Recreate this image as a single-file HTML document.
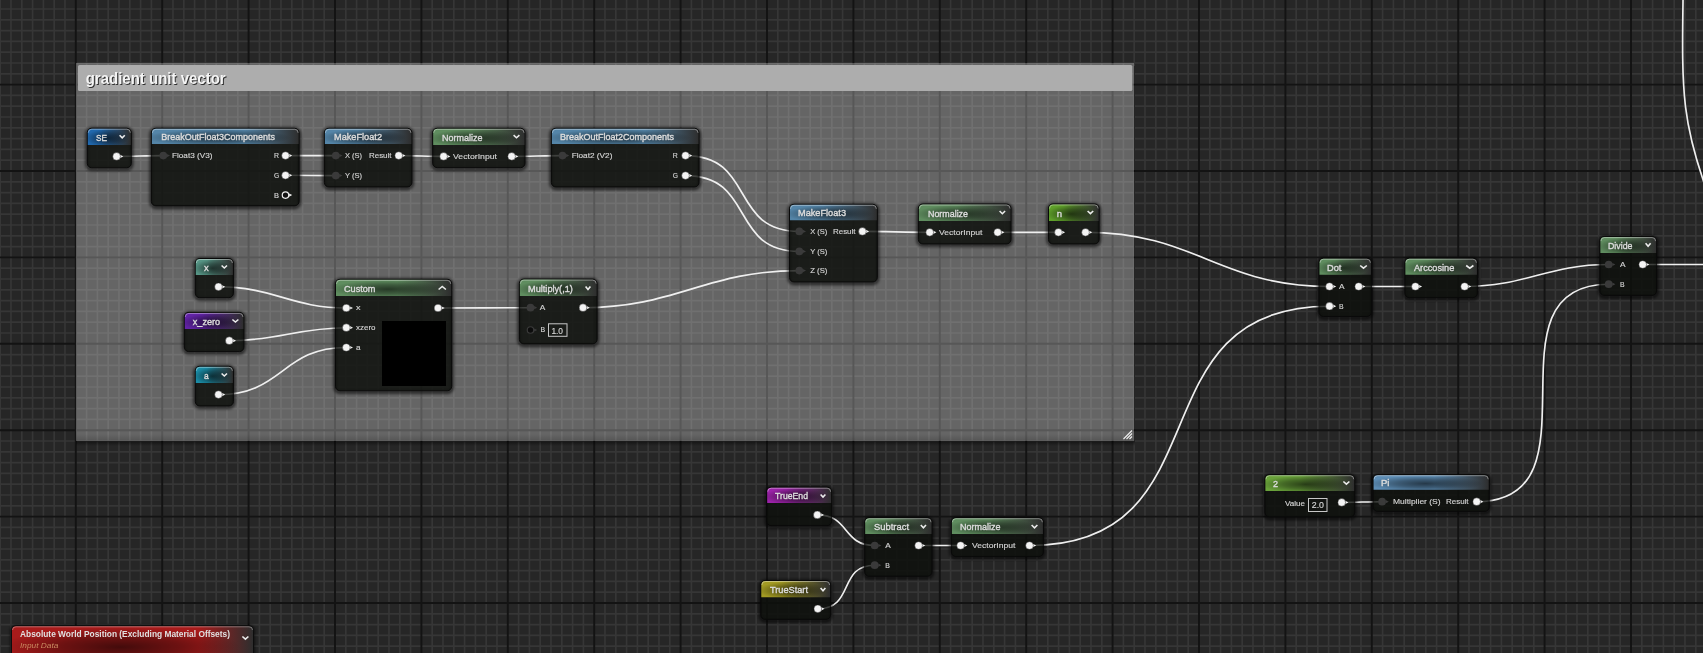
<!DOCTYPE html>
<html><head><meta charset='utf-8'><style>html,body{margin:0;padding:0;background:#262626;overflow:hidden}svg{display:block;will-change:transform}</style></head>
<body><svg width='1703' height='653' viewBox='0 0 1703 653'>
<defs><radialGradient id='blob' cx='0.45' cy='0.58' r='0.5' fx='0.45' fy='0.58' gradientTransform='translate(0.45 0.58) scale(1 1.1) translate(-0.45 -0.58)'><stop offset='0' stop-color='#000' stop-opacity='0.6'/><stop offset='0.5' stop-color='#000' stop-opacity='0.35'/><stop offset='1' stop-color='#000' stop-opacity='0'/></radialGradient><linearGradient id='bodyg' x1='0' y1='0' x2='0' y2='1'><stop offset='0' stop-color='#232422'/><stop offset='1' stop-color='#1c1d1b'/></linearGradient><filter id='sh' x='-20%' y='-20%' width='140%' height='140%'><feGaussianBlur stdDeviation='1.6'/></filter><linearGradient id='cbot' x1='0' y1='0' x2='0' y2='1'><stop offset='0' stop-color='#000' stop-opacity='0'/><stop offset='1' stop-color='#000' stop-opacity='0.16'/></linearGradient><linearGradient id='cshd' x1='0' y1='0' x2='0' y2='1'><stop offset='0' stop-color='#000' stop-opacity='0.5'/><stop offset='1' stop-color='#000' stop-opacity='0'/></linearGradient><linearGradient id='hg1' x1='0' y1='0' x2='1' y2='0'><stop offset='0' stop-color='#2168ad'/><stop offset='0.300' stop-color='#2168ad'/><stop offset='1' stop-color='#2e2e2e'/></linearGradient><linearGradient id='hg2' x1='0' y1='0' x2='1' y2='0'><stop offset='0' stop-color='#5485a8'/><stop offset='0.630' stop-color='#5485a8'/><stop offset='1' stop-color='#2e2e2e'/></linearGradient><linearGradient id='hg3' x1='0' y1='0' x2='1' y2='0'><stop offset='0' stop-color='#5485a8'/><stop offset='0.379' stop-color='#5485a8'/><stop offset='1' stop-color='#2e2e2e'/></linearGradient><linearGradient id='hg4' x1='0' y1='0' x2='1' y2='0'><stop offset='0' stop-color='#5f8d5f'/><stop offset='0.411' stop-color='#5f8d5f'/><stop offset='1' stop-color='#2e2e2e'/></linearGradient><linearGradient id='hg5' x1='0' y1='0' x2='1' y2='0'><stop offset='0' stop-color='#5485a8'/><stop offset='0.630' stop-color='#5485a8'/><stop offset='1' stop-color='#2e2e2e'/></linearGradient><linearGradient id='hg6' x1='0' y1='0' x2='1' y2='0'><stop offset='0' stop-color='#5485a8'/><stop offset='0.381' stop-color='#5485a8'/><stop offset='1' stop-color='#2e2e2e'/></linearGradient><linearGradient id='hg7' x1='0' y1='0' x2='1' y2='0'><stop offset='0' stop-color='#5f8d5f'/><stop offset='0.412' stop-color='#5f8d5f'/><stop offset='1' stop-color='#2e2e2e'/></linearGradient><linearGradient id='hg8' x1='0' y1='0' x2='1' y2='0'><stop offset='0' stop-color='#5fa02a'/><stop offset='0.300' stop-color='#5fa02a'/><stop offset='1' stop-color='#2e2e2e'/></linearGradient><linearGradient id='hg9' x1='0' y1='0' x2='1' y2='0'><stop offset='0' stop-color='#569585'/><stop offset='0.300' stop-color='#569585'/><stop offset='1' stop-color='#2e2e2e'/></linearGradient><linearGradient id='hg10' x1='0' y1='0' x2='1' y2='0'><stop offset='0' stop-color='#6223a6'/><stop offset='0.300' stop-color='#6223a6'/><stop offset='1' stop-color='#2e2e2e'/></linearGradient><linearGradient id='hg11' x1='0' y1='0' x2='1' y2='0'><stop offset='0' stop-color='#1b8ca6'/><stop offset='0.300' stop-color='#1b8ca6'/><stop offset='1' stop-color='#2e2e2e'/></linearGradient><linearGradient id='hg12' x1='0' y1='0' x2='1' y2='0'><stop offset='0' stop-color='#5f8d5f'/><stop offset='0.531' stop-color='#5f8d5f'/><stop offset='1' stop-color='#2e2e2e'/></linearGradient><linearGradient id='hg13' x1='0' y1='0' x2='1' y2='0'><stop offset='0' stop-color='#5f8d5f'/><stop offset='0.301' stop-color='#5f8d5f'/><stop offset='1' stop-color='#2e2e2e'/></linearGradient><linearGradient id='hg14' x1='0' y1='0' x2='1' y2='0'><stop offset='0' stop-color='#5f8d5f'/><stop offset='0.300' stop-color='#5f8d5f'/><stop offset='1' stop-color='#2e2e2e'/></linearGradient><linearGradient id='hg15' x1='0' y1='0' x2='1' y2='0'><stop offset='0' stop-color='#5f8d5f'/><stop offset='0.300' stop-color='#5f8d5f'/><stop offset='1' stop-color='#2e2e2e'/></linearGradient><linearGradient id='hg16' x1='0' y1='0' x2='1' y2='0'><stop offset='0' stop-color='#5f8d5f'/><stop offset='0.300' stop-color='#5f8d5f'/><stop offset='1' stop-color='#2e2e2e'/></linearGradient><linearGradient id='hg17' x1='0' y1='0' x2='1' y2='0'><stop offset='0' stop-color='#69a23a'/><stop offset='0.394' stop-color='#69a23a'/><stop offset='1' stop-color='#2e2e2e'/></linearGradient><linearGradient id='hg18' x1='0' y1='0' x2='1' y2='0'><stop offset='0' stop-color='#5d8db5'/><stop offset='0.530' stop-color='#5d8db5'/><stop offset='1' stop-color='#2e2e2e'/></linearGradient><linearGradient id='hg19' x1='0' y1='0' x2='1' y2='0'><stop offset='0' stop-color='#9b22a8'/><stop offset='0.300' stop-color='#9b22a8'/><stop offset='1' stop-color='#2e2e2e'/></linearGradient><linearGradient id='hg20' x1='0' y1='0' x2='1' y2='0'><stop offset='0' stop-color='#a39b23'/><stop offset='0.300' stop-color='#a39b23'/><stop offset='1' stop-color='#2e2e2e'/></linearGradient><linearGradient id='hg21' x1='0' y1='0' x2='1' y2='0'><stop offset='0' stop-color='#5f8d5f'/><stop offset='0.300' stop-color='#5f8d5f'/><stop offset='1' stop-color='#2e2e2e'/></linearGradient><linearGradient id='hg22' x1='0' y1='0' x2='1' y2='0'><stop offset='0' stop-color='#5f8d5f'/><stop offset='0.409' stop-color='#5f8d5f'/><stop offset='1' stop-color='#2e2e2e'/></linearGradient><linearGradient id='hg23' x1='0' y1='0' x2='1' y2='0'><stop offset='0' stop-color='#a81b1b'/><stop offset='0.772' stop-color='#a81b1b'/><stop offset='1' stop-color='#2e2e2e'/></linearGradient></defs>
<rect x='0' y='0' width='1703' height='653' fill='#262626'/>
<path d='M0.20 0V653M11.00 0V653M21.80 0V653M32.60 0V653M43.40 0V653M54.20 0V653M65.00 0V653M86.60 0V653M97.40 0V653M108.20 0V653M119.00 0V653M129.80 0V653M140.60 0V653M151.40 0V653M173.00 0V653M183.80 0V653M194.60 0V653M205.40 0V653M216.20 0V653M227.00 0V653M237.80 0V653M259.40 0V653M270.20 0V653M281.00 0V653M291.80 0V653M302.60 0V653M313.40 0V653M324.20 0V653M345.80 0V653M356.60 0V653M367.40 0V653M378.20 0V653M389.00 0V653M399.80 0V653M410.60 0V653M432.20 0V653M443.00 0V653M453.80 0V653M464.60 0V653M475.40 0V653M486.20 0V653M497.00 0V653M518.60 0V653M529.40 0V653M540.20 0V653M551.00 0V653M561.80 0V653M572.60 0V653M583.40 0V653M605.00 0V653M615.80 0V653M626.60 0V653M637.40 0V653M648.20 0V653M659.00 0V653M669.80 0V653M691.40 0V653M702.20 0V653M713.00 0V653M723.80 0V653M734.60 0V653M745.40 0V653M756.20 0V653M777.80 0V653M788.60 0V653M799.40 0V653M810.20 0V653M821.00 0V653M831.80 0V653M842.60 0V653M864.20 0V653M875.00 0V653M885.80 0V653M896.60 0V653M907.40 0V653M918.20 0V653M929.00 0V653M950.60 0V653M961.40 0V653M972.20 0V653M983.00 0V653M993.80 0V653M1004.60 0V653M1015.40 0V653M1037.00 0V653M1047.80 0V653M1058.60 0V653M1069.40 0V653M1080.20 0V653M1091.00 0V653M1101.80 0V653M1123.40 0V653M1134.20 0V653M1145.00 0V653M1155.80 0V653M1166.60 0V653M1177.40 0V653M1188.20 0V653M1209.80 0V653M1220.60 0V653M1231.40 0V653M1242.20 0V653M1253.00 0V653M1263.80 0V653M1274.60 0V653M1296.20 0V653M1307.00 0V653M1317.80 0V653M1328.60 0V653M1339.40 0V653M1350.20 0V653M1361.00 0V653M1382.60 0V653M1393.40 0V653M1404.20 0V653M1415.00 0V653M1425.80 0V653M1436.60 0V653M1447.40 0V653M1469.00 0V653M1479.80 0V653M1490.60 0V653M1501.40 0V653M1512.20 0V653M1523.00 0V653M1533.80 0V653M1555.40 0V653M1566.20 0V653M1577.00 0V653M1587.80 0V653M1598.60 0V653M1609.40 0V653M1620.20 0V653M1641.80 0V653M1652.60 0V653M1663.40 0V653M1674.20 0V653M1685.00 0V653M1695.80 0V653M0 9.00H1703M0 19.80H1703M0 30.60H1703M0 41.40H1703M0 52.20H1703M0 63.00H1703M0 73.80H1703M0 95.40H1703M0 106.20H1703M0 117.00H1703M0 127.80H1703M0 138.60H1703M0 149.40H1703M0 160.20H1703M0 181.80H1703M0 192.60H1703M0 203.40H1703M0 214.20H1703M0 225.00H1703M0 235.80H1703M0 246.60H1703M0 268.20H1703M0 279.00H1703M0 289.80H1703M0 300.60H1703M0 311.40H1703M0 322.20H1703M0 333.00H1703M0 354.60H1703M0 365.40H1703M0 376.20H1703M0 387.00H1703M0 397.80H1703M0 408.60H1703M0 419.40H1703M0 441.00H1703M0 451.80H1703M0 462.60H1703M0 473.40H1703M0 484.20H1703M0 495.00H1703M0 505.80H1703M0 527.40H1703M0 538.20H1703M0 549.00H1703M0 559.80H1703M0 570.60H1703M0 581.40H1703M0 592.20H1703M0 613.80H1703M0 624.60H1703M0 635.40H1703M0 646.20H1703' stroke='#363636' stroke-width='1.7' fill='none'/>
<path d='M75.80 0V653M162.20 0V653M248.60 0V653M335.00 0V653M421.40 0V653M507.80 0V653M594.20 0V653M680.60 0V653M767.00 0V653M853.40 0V653M939.80 0V653M1026.20 0V653M1112.60 0V653M1199.00 0V653M1285.40 0V653M1371.80 0V653M1458.20 0V653M1544.60 0V653M1631.00 0V653M0 -1.80H1703M0 84.60H1703M0 171.00H1703M0 257.40H1703M0 343.80H1703M0 430.20H1703M0 516.60H1703M0 603.00H1703' stroke='#131313' stroke-width='1.9' fill='none'/>
<rect x='76' y='63' width='1058' height='378' fill='#ffffff' fill-opacity='0.29'/>
<rect x='76' y='434' width='1058' height='7' fill='url(#cbot)'/>
<rect x='76' y='441' width='1059' height='5' fill='url(#cshd)'/>
<rect x='1134' y='66' width='1' height='375' fill='#000' fill-opacity='0.3'/>
<rect x='78' y='65' width='1054.3' height='26' rx='1.5' fill='#adadad'/>
<text x='86.7' y='84.8' font-family="Liberation Sans, sans-serif" font-size='16.5' font-weight='bold' fill='#303030' textLength='140' lengthAdjust='spacingAndGlyphs'>gradient unit vector</text>
<text x='85.7' y='83.8' font-family="Liberation Sans, sans-serif" font-size='16.5' font-weight='bold' fill='#f4f4f4' textLength='140' lengthAdjust='spacingAndGlyphs'>gradient unit vector</text>
<g stroke='#f0f0f0' stroke-width='1.1'><path d='M1123.5 439L1132 430.5'/><path d='M1126.5 439L1132 433.5'/><path d='M1129.5 439L1132 436.5'/></g>
<path d='M116.6 156.4C134.18 156.4 145.72 155.6 163.3 155.6M285.5 155.6C304.11 155.6 317.19 155.6 335.8 155.6M285.5 175.3C304.22 175.3 317.08 175.6 335.8 175.6M398.7 155.6C415.61 155.6 426.69 156.4 443.6 156.4M511.6 156.4C530.73 156.4 543.37 155.6 562.5 155.6M685.5 155.6C755.65 155.6 729.15 231.4 799.3 231.4M685.5 175.6C755.65 175.6 729.15 251.4 799.3 251.4M583 307.7C676.76 307.7 705.54 270.6 799.3 270.6M862.4 231.4C887.63 231.4 904.47 232.3 929.7 232.3M997.7 232.3C1020.16 232.3 1035.94 232.3 1058.4 232.3M1085.5 232.3C1195.83 232.3 1219.17 286.5 1329.5 286.5M218.5 286.8C273.63 286.8 291.17 308 346.3 308M229.3 340.7C277.40 340.7 298.20 327.7 346.3 327.7M218.5 394.6C283.21 394.6 281.59 347.5 346.3 347.5M438 308C472.34 308 496.16 307.7 530.5 307.7M1358.7 286.5C1379.68 286.5 1394.42 286.5 1415.4 286.5M1464.6 286.5C1526.06 286.5 1547.24 264.5 1608.7 264.5M1476.7 501.7C1606.02 501.7 1479.38 284.2 1608.7 284.2M1341.7 502.4C1356.91 502.4 1366.89 501.7 1382.1 501.7M817.3 514.9C849.86 514.9 842.14 545.5 874.7 545.5M817.8 608.8C854.98 608.8 837.52 565.2 874.7 565.2M918.6 545.5C934.14 545.5 945.06 545.5 960.6 545.5M1029.5 545.5C1229.04 545.5 1129.96 306.2 1329.5 306.2M1642.7 264.5C1686.10 264.5 1716.60 264.5 1760 264.5M1683.1 -5C1681.56 93.44 1681.58 125.72 1712 204.51' stroke='#eeeeee' stroke-width='1.65' fill='none'/>
<rect x='86.8' y='128.70000000000002' width='45.000000000000014' height='40.599999999999994' rx='5' fill='none' stroke='#000' stroke-opacity='0.7' stroke-width='3' filter='url(#sh)'/>
<rect x='87.3' y='128.20000000000002' width='44.000000000000014' height='39.599999999999994' rx='4.5' fill='#0e100d' fill-opacity='0.86' stroke='#090909' stroke-width='1'/>
<path d='M87.8 145V132.70000000000002Q87.8 128.70000000000002 91.8 128.70000000000002H126.80000000000001Q130.8 128.70000000000002 130.8 132.70000000000002V145Z' fill='url(#hg1)'/>
<path d='M87.8 145V132.70000000000002Q87.8 128.70000000000002 91.8 128.70000000000002H126.80000000000001Q130.8 128.70000000000002 130.8 132.70000000000002V145Z' fill='url(#blob)'/>
<path d='M88.3 132.70000000000002Q88.3 129.20000000000002 91.8 129.20000000000002H126.80000000000001Q130.3 129.20000000000002 130.3 132.70000000000002' stroke='#fff' stroke-opacity='0.4' stroke-width='1' fill='none'/>
<rect x='150.9' y='128.8' width='148.69999999999996' height='78.6' rx='5' fill='none' stroke='#000' stroke-opacity='0.7' stroke-width='3' filter='url(#sh)'/>
<rect x='151.4' y='128.3' width='147.69999999999996' height='77.6' rx='4.5' fill='#0e100d' fill-opacity='0.86' stroke='#090909' stroke-width='1'/>
<path d='M151.9 144V132.8Q151.9 128.8 155.9 128.8H294.59999999999997Q298.59999999999997 128.8 298.59999999999997 132.8V144Z' fill='url(#hg2)'/>
<path d='M151.9 144V132.8Q151.9 128.8 155.9 128.8H294.59999999999997Q298.59999999999997 128.8 298.59999999999997 132.8V144Z' fill='url(#blob)'/>
<path d='M152.4 132.8Q152.4 129.3 155.9 129.3H294.59999999999997Q298.09999999999997 129.3 298.09999999999997 132.8' stroke='#fff' stroke-opacity='0.4' stroke-width='1' fill='none'/>
<rect x='323.90000000000003' y='128.8' width='88.49999999999994' height='59.69999999999999' rx='5' fill='none' stroke='#000' stroke-opacity='0.7' stroke-width='3' filter='url(#sh)'/>
<rect x='324.40000000000003' y='128.3' width='87.49999999999994' height='58.69999999999999' rx='4.5' fill='#0e100d' fill-opacity='0.86' stroke='#090909' stroke-width='1'/>
<path d='M324.90000000000003 144V132.8Q324.90000000000003 128.8 328.90000000000003 128.8H407.4Q411.4 128.8 411.4 132.8V144Z' fill='url(#hg3)'/>
<path d='M324.90000000000003 144V132.8Q324.90000000000003 128.8 328.90000000000003 128.8H407.4Q411.4 128.8 411.4 132.8V144Z' fill='url(#blob)'/>
<path d='M325.40000000000003 132.8Q325.40000000000003 129.3 328.90000000000003 129.3H407.4Q410.9 129.3 410.9 132.8' stroke='#fff' stroke-opacity='0.4' stroke-width='1' fill='none'/>
<rect x='432.20000000000005' y='128.8' width='93.29999999999995' height='40.400000000000006' rx='5' fill='none' stroke='#000' stroke-opacity='0.7' stroke-width='3' filter='url(#sh)'/>
<rect x='432.70000000000005' y='128.3' width='92.29999999999995' height='39.400000000000006' rx='4.5' fill='#0e100d' fill-opacity='0.86' stroke='#090909' stroke-width='1'/>
<path d='M433.20000000000005 145V132.8Q433.20000000000005 128.8 437.20000000000005 128.8H520.5Q524.5 128.8 524.5 132.8V145Z' fill='url(#hg4)'/>
<path d='M433.20000000000005 145V132.8Q433.20000000000005 128.8 437.20000000000005 128.8H520.5Q524.5 128.8 524.5 132.8V145Z' fill='url(#blob)'/>
<path d='M433.70000000000005 132.8Q433.70000000000005 129.3 437.20000000000005 129.3H520.5Q524.0 129.3 524.0 132.8' stroke='#fff' stroke-opacity='0.4' stroke-width='1' fill='none'/>
<rect x='550.9' y='128.8' width='148.60000000000002' height='59.69999999999999' rx='5' fill='none' stroke='#000' stroke-opacity='0.7' stroke-width='3' filter='url(#sh)'/>
<rect x='551.4' y='128.3' width='147.60000000000002' height='58.69999999999999' rx='4.5' fill='#0e100d' fill-opacity='0.86' stroke='#090909' stroke-width='1'/>
<path d='M551.9 144V132.8Q551.9 128.8 555.9 128.8H694.5Q698.5 128.8 698.5 132.8V144Z' fill='url(#hg5)'/>
<path d='M551.9 144V132.8Q551.9 128.8 555.9 128.8H694.5Q698.5 128.8 698.5 132.8V144Z' fill='url(#blob)'/>
<path d='M552.4 132.8Q552.4 129.3 555.9 129.3H694.5Q698.0 129.3 698.0 132.8' stroke='#fff' stroke-opacity='0.4' stroke-width='1' fill='none'/>
<rect x='789.0' y='204.8' width='88.79999999999995' height='78.69999999999999' rx='5' fill='none' stroke='#000' stroke-opacity='0.7' stroke-width='3' filter='url(#sh)'/>
<rect x='789.5' y='204.3' width='87.79999999999995' height='77.69999999999999' rx='4.5' fill='#0e100d' fill-opacity='0.86' stroke='#090909' stroke-width='1'/>
<path d='M790.0 220.3V208.8Q790.0 204.8 794.0 204.8H872.8Q876.8 204.8 876.8 208.8V220.3Z' fill='url(#hg6)'/>
<path d='M790.0 220.3V208.8Q790.0 204.8 794.0 204.8H872.8Q876.8 204.8 876.8 208.8V220.3Z' fill='url(#blob)'/>
<path d='M790.5 208.8Q790.5 205.3 794.0 205.3H872.8Q876.3 205.3 876.3 208.8' stroke='#fff' stroke-opacity='0.4' stroke-width='1' fill='none'/>
<rect x='917.9' y='204.5' width='93.60000000000002' height='41.0' rx='5' fill='none' stroke='#000' stroke-opacity='0.7' stroke-width='3' filter='url(#sh)'/>
<rect x='918.4' y='204.0' width='92.60000000000002' height='40.0' rx='4.5' fill='#0e100d' fill-opacity='0.86' stroke='#090909' stroke-width='1'/>
<path d='M918.9 221V208.5Q918.9 204.5 922.9 204.5H1006.5Q1010.5 204.5 1010.5 208.5V221Z' fill='url(#hg7)'/>
<path d='M918.9 221V208.5Q918.9 204.5 922.9 204.5H1006.5Q1010.5 204.5 1010.5 208.5V221Z' fill='url(#blob)'/>
<path d='M919.4 208.5Q919.4 205.0 922.9 205.0H1006.5Q1010.0 205.0 1010.0 208.5' stroke='#fff' stroke-opacity='0.4' stroke-width='1' fill='none'/>
<rect x='1048.0' y='204.4' width='51.600000000000136' height='41.099999999999994' rx='5' fill='none' stroke='#000' stroke-opacity='0.7' stroke-width='3' filter='url(#sh)'/>
<rect x='1048.5' y='203.9' width='50.600000000000136' height='40.099999999999994' rx='4.5' fill='#0e100d' fill-opacity='0.86' stroke='#090909' stroke-width='1'/>
<path d='M1049.0 221V208.4Q1049.0 204.4 1053.0 204.4H1094.6000000000001Q1098.6000000000001 204.4 1098.6000000000001 208.4V221Z' fill='url(#hg8)'/>
<path d='M1049.0 221V208.4Q1049.0 204.4 1053.0 204.4H1094.6000000000001Q1098.6000000000001 204.4 1098.6000000000001 208.4V221Z' fill='url(#blob)'/>
<path d='M1049.5 208.4Q1049.5 204.9 1053.0 204.9H1094.6000000000001Q1098.1000000000001 204.9 1098.1000000000001 208.4' stroke='#fff' stroke-opacity='0.4' stroke-width='1' fill='none'/>
<rect x='194.79999999999998' y='259.0' width='39.10000000000002' height='40.19999999999999' rx='5' fill='none' stroke='#000' stroke-opacity='0.7' stroke-width='3' filter='url(#sh)'/>
<rect x='195.29999999999998' y='258.5' width='38.10000000000002' height='39.19999999999999' rx='4.5' fill='#0e100d' fill-opacity='0.86' stroke='#090909' stroke-width='1'/>
<path d='M195.79999999999998 275V263.0Q195.79999999999998 259.0 199.79999999999998 259.0H228.9Q232.9 259.0 232.9 263.0V275Z' fill='url(#hg9)'/>
<path d='M195.79999999999998 275V263.0Q195.79999999999998 259.0 199.79999999999998 259.0H228.9Q232.9 259.0 232.9 263.0V275Z' fill='url(#blob)'/>
<path d='M196.29999999999998 263.0Q196.29999999999998 259.5 199.79999999999998 259.5H228.9Q232.4 259.5 232.4 263.0' stroke='#fff' stroke-opacity='0.4' stroke-width='1' fill='none'/>
<rect x='183.79999999999998' y='312.9' width='60.60000000000002' height='40.19999999999999' rx='5' fill='none' stroke='#000' stroke-opacity='0.7' stroke-width='3' filter='url(#sh)'/>
<rect x='184.29999999999998' y='312.4' width='59.60000000000002' height='39.19999999999999' rx='4.5' fill='#0e100d' fill-opacity='0.86' stroke='#090909' stroke-width='1'/>
<path d='M184.79999999999998 329V316.9Q184.79999999999998 312.9 188.79999999999998 312.9H239.4Q243.4 312.9 243.4 316.9V329Z' fill='url(#hg10)'/>
<path d='M184.79999999999998 329V316.9Q184.79999999999998 312.9 188.79999999999998 312.9H239.4Q243.4 312.9 243.4 316.9V329Z' fill='url(#blob)'/>
<path d='M185.29999999999998 316.9Q185.29999999999998 313.4 188.79999999999998 313.4H239.4Q242.9 313.4 242.9 316.9' stroke='#fff' stroke-opacity='0.4' stroke-width='1' fill='none'/>
<rect x='194.79999999999998' y='366.79999999999995' width='39.10000000000002' height='40.700000000000045' rx='5' fill='none' stroke='#000' stroke-opacity='0.7' stroke-width='3' filter='url(#sh)'/>
<rect x='195.29999999999998' y='366.29999999999995' width='38.10000000000002' height='39.700000000000045' rx='4.5' fill='#0e100d' fill-opacity='0.86' stroke='#090909' stroke-width='1'/>
<path d='M195.79999999999998 383V370.79999999999995Q195.79999999999998 366.79999999999995 199.79999999999998 366.79999999999995H228.9Q232.9 366.79999999999995 232.9 370.79999999999995V383Z' fill='url(#hg11)'/>
<path d='M195.79999999999998 383V370.79999999999995Q195.79999999999998 366.79999999999995 199.79999999999998 366.79999999999995H228.9Q232.9 366.79999999999995 232.9 370.79999999999995V383Z' fill='url(#blob)'/>
<path d='M196.29999999999998 370.79999999999995Q196.29999999999998 367.29999999999995 199.79999999999998 367.29999999999995H228.9Q232.4 367.29999999999995 232.4 370.79999999999995' stroke='#fff' stroke-opacity='0.4' stroke-width='1' fill='none'/>
<rect x='335.0' y='279.79999999999995' width='117.19999999999999' height='112.5' rx='5' fill='none' stroke='#000' stroke-opacity='0.7' stroke-width='3' filter='url(#sh)'/>
<rect x='335.5' y='279.29999999999995' width='116.19999999999999' height='111.5' rx='4.5' fill='#0e100d' fill-opacity='0.86' stroke='#090909' stroke-width='1'/>
<path d='M336.0 296V283.79999999999995Q336.0 279.79999999999995 340.0 279.79999999999995H447.2Q451.2 279.79999999999995 451.2 283.79999999999995V296Z' fill='url(#hg12)'/>
<path d='M336.0 296V283.79999999999995Q336.0 279.79999999999995 340.0 279.79999999999995H447.2Q451.2 279.79999999999995 451.2 283.79999999999995V296Z' fill='url(#blob)'/>
<path d='M336.5 283.79999999999995Q336.5 280.29999999999995 340.0 280.29999999999995H447.2Q450.7 280.29999999999995 450.7 283.79999999999995' stroke='#fff' stroke-opacity='0.4' stroke-width='1' fill='none'/>
<rect x='518.9' y='279.59999999999997' width='78.70000000000005' height='65.80000000000001' rx='5' fill='none' stroke='#000' stroke-opacity='0.7' stroke-width='3' filter='url(#sh)'/>
<rect x='519.4' y='279.09999999999997' width='77.70000000000005' height='64.80000000000001' rx='4.5' fill='#0e100d' fill-opacity='0.86' stroke='#090909' stroke-width='1'/>
<path d='M519.9 296V283.59999999999997Q519.9 279.59999999999997 523.9 279.59999999999997H592.6Q596.6 279.59999999999997 596.6 283.59999999999997V296Z' fill='url(#hg13)'/>
<path d='M519.9 296V283.59999999999997Q519.9 279.59999999999997 523.9 279.59999999999997H592.6Q596.6 279.59999999999997 596.6 283.59999999999997V296Z' fill='url(#blob)'/>
<path d='M520.4 283.59999999999997Q520.4 280.09999999999997 523.9 280.09999999999997H592.6Q596.1 280.09999999999997 596.1 283.59999999999997' stroke='#fff' stroke-opacity='0.4' stroke-width='1' fill='none'/>
<rect x='1318.5' y='258.7' width='53.40000000000009' height='59.30000000000001' rx='5' fill='none' stroke='#000' stroke-opacity='0.7' stroke-width='3' filter='url(#sh)'/>
<rect x='1319.0' y='258.2' width='52.40000000000009' height='58.30000000000001' rx='4.5' fill='#0e100d' fill-opacity='0.86' stroke='#090909' stroke-width='1'/>
<path d='M1319.5 274.7V262.7Q1319.5 258.7 1323.5 258.7H1366.9Q1370.9 258.7 1370.9 262.7V274.7Z' fill='url(#hg14)'/>
<path d='M1319.5 274.7V262.7Q1319.5 258.7 1323.5 258.7H1366.9Q1370.9 258.7 1370.9 262.7V274.7Z' fill='url(#blob)'/>
<path d='M1320.0 262.7Q1320.0 259.2 1323.5 259.2H1366.9Q1370.4 259.2 1370.4 262.7' stroke='#fff' stroke-opacity='0.4' stroke-width='1' fill='none'/>
<rect x='1404.3999999999999' y='258.7' width='73.50000000000023' height='40.39999999999998' rx='5' fill='none' stroke='#000' stroke-opacity='0.7' stroke-width='3' filter='url(#sh)'/>
<rect x='1404.8999999999999' y='258.2' width='72.50000000000023' height='39.39999999999998' rx='4.5' fill='#0e100d' fill-opacity='0.86' stroke='#090909' stroke-width='1'/>
<path d='M1405.3999999999999 274.7V262.7Q1405.3999999999999 258.7 1409.3999999999999 258.7H1472.9Q1476.9 258.7 1476.9 262.7V274.7Z' fill='url(#hg15)'/>
<path d='M1405.3999999999999 274.7V262.7Q1405.3999999999999 258.7 1409.3999999999999 258.7H1472.9Q1476.9 258.7 1476.9 262.7V274.7Z' fill='url(#blob)'/>
<path d='M1405.8999999999999 262.7Q1405.8999999999999 259.2 1409.3999999999999 259.2H1472.9Q1476.4 259.2 1476.4 262.7' stroke='#fff' stroke-opacity='0.4' stroke-width='1' fill='none'/>
<rect x='1599.3999999999999' y='237.1' width='57.70000000000027' height='59.79999999999998' rx='5' fill='none' stroke='#000' stroke-opacity='0.7' stroke-width='3' filter='url(#sh)'/>
<rect x='1599.8999999999999' y='236.6' width='56.70000000000027' height='58.79999999999998' rx='4.5' fill='#0e100d' fill-opacity='0.86' stroke='#090909' stroke-width='1'/>
<path d='M1600.3999999999999 253V241.1Q1600.3999999999999 237.1 1604.3999999999999 237.1H1652.1000000000001Q1656.1000000000001 237.1 1656.1000000000001 241.1V253Z' fill='url(#hg16)'/>
<path d='M1600.3999999999999 253V241.1Q1600.3999999999999 237.1 1604.3999999999999 237.1H1652.1000000000001Q1656.1000000000001 237.1 1656.1000000000001 241.1V253Z' fill='url(#blob)'/>
<path d='M1600.8999999999999 241.1Q1600.8999999999999 237.6 1604.3999999999999 237.6H1652.1000000000001Q1655.6000000000001 237.6 1655.6000000000001 241.1' stroke='#fff' stroke-opacity='0.4' stroke-width='1' fill='none'/>
<rect x='1264.3999999999999' y='475.2' width='90.80000000000018' height='43.19999999999999' rx='5' fill='none' stroke='#000' stroke-opacity='0.7' stroke-width='3' filter='url(#sh)'/>
<rect x='1264.8999999999999' y='474.7' width='89.80000000000018' height='42.19999999999999' rx='4.5' fill='#0e100d' fill-opacity='0.86' stroke='#090909' stroke-width='1'/>
<path d='M1265.3999999999999 490.9V479.2Q1265.3999999999999 475.2 1269.3999999999999 475.2H1350.2Q1354.2 475.2 1354.2 479.2V490.9Z' fill='url(#hg17)'/>
<path d='M1265.3999999999999 490.9V479.2Q1265.3999999999999 475.2 1269.3999999999999 475.2H1350.2Q1354.2 475.2 1354.2 479.2V490.9Z' fill='url(#blob)'/>
<path d='M1265.8999999999999 479.2Q1265.8999999999999 475.7 1269.3999999999999 475.7H1350.2Q1353.7 475.7 1353.7 479.2' stroke='#fff' stroke-opacity='0.4' stroke-width='1' fill='none'/>
<rect x='1372.6' y='475.2' width='117.10000000000014' height='37.69999999999999' rx='5' fill='none' stroke='#000' stroke-opacity='0.7' stroke-width='3' filter='url(#sh)'/>
<rect x='1373.1' y='474.7' width='116.10000000000014' height='36.69999999999999' rx='4.5' fill='#0e100d' fill-opacity='0.86' stroke='#090909' stroke-width='1'/>
<path d='M1373.6 489.7V479.2Q1373.6 475.2 1377.6 475.2H1484.7Q1488.7 475.2 1488.7 479.2V489.7Z' fill='url(#hg18)'/>
<path d='M1373.6 489.7V479.2Q1373.6 475.2 1377.6 475.2H1484.7Q1488.7 475.2 1488.7 479.2V489.7Z' fill='url(#blob)'/>
<path d='M1374.1 479.2Q1374.1 475.7 1377.6 475.7H1484.7Q1488.2 475.7 1488.2 479.2' stroke='#fff' stroke-opacity='0.4' stroke-width='1' fill='none'/>
<rect x='766.2' y='487.7' width='65.89999999999998' height='39.49999999999994' rx='5' fill='none' stroke='#000' stroke-opacity='0.7' stroke-width='3' filter='url(#sh)'/>
<rect x='766.7' y='487.2' width='64.89999999999998' height='38.49999999999994' rx='4.5' fill='#0e100d' fill-opacity='0.86' stroke='#090909' stroke-width='1'/>
<path d='M767.2 503V491.7Q767.2 487.7 771.2 487.7H827.1Q831.1 487.7 831.1 491.7V503Z' fill='url(#hg19)'/>
<path d='M767.2 503V491.7Q767.2 487.7 771.2 487.7H827.1Q831.1 487.7 831.1 491.7V503Z' fill='url(#blob)'/>
<path d='M767.7 491.7Q767.7 488.2 771.2 488.2H827.1Q830.6 488.2 830.6 491.7' stroke='#fff' stroke-opacity='0.4' stroke-width='1' fill='none'/>
<rect x='760.3000000000001' y='581.0' width='70.79999999999995' height='39.89999999999998' rx='5' fill='none' stroke='#000' stroke-opacity='0.7' stroke-width='3' filter='url(#sh)'/>
<rect x='760.8000000000001' y='580.5' width='69.79999999999995' height='38.89999999999998' rx='4.5' fill='#0e100d' fill-opacity='0.86' stroke='#090909' stroke-width='1'/>
<path d='M761.3000000000001 597.2V585.0Q761.3000000000001 581.0 765.3000000000001 581.0H826.1Q830.1 581.0 830.1 585.0V597.2Z' fill='url(#hg20)'/>
<path d='M761.3000000000001 597.2V585.0Q761.3000000000001 581.0 765.3000000000001 581.0H826.1Q830.1 581.0 830.1 585.0V597.2Z' fill='url(#blob)'/>
<path d='M761.8000000000001 585.0Q761.8000000000001 581.5 765.3000000000001 581.5H826.1Q829.6 581.5 829.6 585.0' stroke='#fff' stroke-opacity='0.4' stroke-width='1' fill='none'/>
<rect x='864.2' y='518.1999999999999' width='68.29999999999995' height='59.60000000000002' rx='5' fill='none' stroke='#000' stroke-opacity='0.7' stroke-width='3' filter='url(#sh)'/>
<rect x='864.7' y='517.6999999999999' width='67.29999999999995' height='58.60000000000002' rx='4.5' fill='#0e100d' fill-opacity='0.86' stroke='#090909' stroke-width='1'/>
<path d='M865.2 533.9V522.1999999999999Q865.2 518.1999999999999 869.2 518.1999999999999H927.5Q931.5 518.1999999999999 931.5 522.1999999999999V533.9Z' fill='url(#hg21)'/>
<path d='M865.2 533.9V522.1999999999999Q865.2 518.1999999999999 869.2 518.1999999999999H927.5Q931.5 518.1999999999999 931.5 522.1999999999999V533.9Z' fill='url(#blob)'/>
<path d='M865.7 522.1999999999999Q865.7 518.6999999999999 869.2 518.6999999999999H927.5Q931.0 518.6999999999999 931.0 522.1999999999999' stroke='#fff' stroke-opacity='0.4' stroke-width='1' fill='none'/>
<rect x='950.9' y='518.1999999999999' width='93.00000000000011' height='39.90000000000009' rx='5' fill='none' stroke='#000' stroke-opacity='0.7' stroke-width='3' filter='url(#sh)'/>
<rect x='951.4' y='517.6999999999999' width='92.00000000000011' height='38.90000000000009' rx='4.5' fill='#0e100d' fill-opacity='0.86' stroke='#090909' stroke-width='1'/>
<path d='M951.9 534V522.1999999999999Q951.9 518.1999999999999 955.9 518.1999999999999H1038.9Q1042.9 518.1999999999999 1042.9 522.1999999999999V534Z' fill='url(#hg22)'/>
<path d='M951.9 534V522.1999999999999Q951.9 518.1999999999999 955.9 518.1999999999999H1038.9Q1042.9 518.1999999999999 1042.9 522.1999999999999V534Z' fill='url(#blob)'/>
<path d='M952.4 522.1999999999999Q952.4 518.6999999999999 955.9 518.6999999999999H1038.9Q1042.4 518.6999999999999 1042.4 522.1999999999999' stroke='#fff' stroke-opacity='0.4' stroke-width='1' fill='none'/>
<path d='M116.6 156.4C134.18 156.4 145.72 155.6 163.3 155.6M285.5 155.6C304.11 155.6 317.19 155.6 335.8 155.6M285.5 175.3C304.22 175.3 317.08 175.6 335.8 175.6M398.7 155.6C415.61 155.6 426.69 156.4 443.6 156.4M511.6 156.4C530.73 156.4 543.37 155.6 562.5 155.6M685.5 155.6C755.65 155.6 729.15 231.4 799.3 231.4M685.5 175.6C755.65 175.6 729.15 251.4 799.3 251.4M583 307.7C676.76 307.7 705.54 270.6 799.3 270.6M862.4 231.4C887.63 231.4 904.47 232.3 929.7 232.3M997.7 232.3C1020.16 232.3 1035.94 232.3 1058.4 232.3M1085.5 232.3C1195.83 232.3 1219.17 286.5 1329.5 286.5M218.5 286.8C273.63 286.8 291.17 308 346.3 308M229.3 340.7C277.40 340.7 298.20 327.7 346.3 327.7M218.5 394.6C283.21 394.6 281.59 347.5 346.3 347.5M438 308C472.34 308 496.16 307.7 530.5 307.7M1358.7 286.5C1379.68 286.5 1394.42 286.5 1415.4 286.5M1464.6 286.5C1526.06 286.5 1547.24 264.5 1608.7 264.5M1476.7 501.7C1606.02 501.7 1479.38 284.2 1608.7 284.2M1341.7 502.4C1356.91 502.4 1366.89 501.7 1382.1 501.7M817.3 514.9C849.86 514.9 842.14 545.5 874.7 545.5M817.8 608.8C854.98 608.8 837.52 565.2 874.7 565.2M918.6 545.5C934.14 545.5 945.06 545.5 960.6 545.5M1029.5 545.5C1229.04 545.5 1129.96 306.2 1329.5 306.2M1642.7 264.5C1686.10 264.5 1716.60 264.5 1760 264.5M1683.1 -5C1681.56 93.44 1681.58 125.72 1712 204.51' stroke='#ffffff' stroke-opacity='0.08' stroke-width='1.6' fill='none'/>
<text x='96' y='140.9' font-family="Liberation Sans, sans-serif" font-size='9.8' fill='#dcdcdc' stroke='#dcdcdc' stroke-width='0.4' textLength='11' lengthAdjust='spacingAndGlyphs'>SE</text>
<path d='M119.6 135.2L122.2 137.8L124.80000000000001 135.2' stroke='#ececec' stroke-width='1.6' fill='none'/>
<path d='M120.19999999999999 154.8L123.3 156.4L120.19999999999999 158.0Z' fill='#f4f4f4'/><circle cx='116.6' cy='156.4' r='3.85' fill='#f4f4f4' stroke='#151515' stroke-opacity='0.6' stroke-width='0.7'/>
<text x='161.2' y='139.9' font-family="Liberation Sans, sans-serif" font-size='9.8' fill='#dcdcdc' stroke='#dcdcdc' stroke-width='0.4' textLength='113.8' lengthAdjust='spacingAndGlyphs'>BreakOutFloat3Components</text>
<path d='M166.9 154.0L170.0 155.6L166.9 157.2Z' fill='#3c3c3c'/><circle cx='163.3' cy='155.6' r='3.85' fill='#3a3a3a'/>
<path d='M289.1 154.0L292.2 155.6L289.1 157.2Z' fill='#f4f4f4'/><circle cx='285.5' cy='155.6' r='3.85' fill='#f4f4f4' stroke='#151515' stroke-opacity='0.6' stroke-width='0.7'/>
<path d='M289.1 173.70000000000002L292.2 175.3L289.1 176.9Z' fill='#f4f4f4'/><circle cx='285.5' cy='175.3' r='3.85' fill='#f4f4f4' stroke='#151515' stroke-opacity='0.6' stroke-width='0.7'/>
<path d='M289.1 193.5L292.2 195.1L289.1 196.7Z' fill='#f4f4f4'/><circle cx='285.5' cy='195.1' r='3.25' fill='#111' stroke='#f0f0f0' stroke-width='1.2'/>
<text x='172' y='158' font-family="Liberation Sans, sans-serif" font-size='8' fill='#d4d4d4' stroke='#d4d4d4' stroke-width='0.15' textLength='40.4' lengthAdjust='spacingAndGlyphs'>Float3 (V3)</text>
<text x='274' y='158' font-family="Liberation Sans, sans-serif" font-size='7' fill='#d4d4d4' stroke='#d4d4d4' stroke-width='0.15' textLength='5' lengthAdjust='spacingAndGlyphs'>R</text>
<text x='274' y='177.7' font-family="Liberation Sans, sans-serif" font-size='7' fill='#d4d4d4' stroke='#d4d4d4' stroke-width='0.15' textLength='5.2' lengthAdjust='spacingAndGlyphs'>G</text>
<text x='274' y='197.5' font-family="Liberation Sans, sans-serif" font-size='7' fill='#d4d4d4' stroke='#d4d4d4' stroke-width='0.15' textLength='5' lengthAdjust='spacingAndGlyphs'>B</text>
<text x='334' y='139.9' font-family="Liberation Sans, sans-serif" font-size='9.8' fill='#dcdcdc' stroke='#dcdcdc' stroke-width='0.4' textLength='48' lengthAdjust='spacingAndGlyphs'>MakeFloat2</text>
<path d='M339.40000000000003 154.0L342.5 155.6L339.40000000000003 157.2Z' fill='#3c3c3c'/><circle cx='335.8' cy='155.6' r='3.85' fill='#3a3a3a'/>
<path d='M402.3 154.0L405.4 155.6L402.3 157.2Z' fill='#f4f4f4'/><circle cx='398.7' cy='155.6' r='3.85' fill='#f4f4f4' stroke='#151515' stroke-opacity='0.6' stroke-width='0.7'/>
<path d='M339.40000000000003 174.0L342.5 175.6L339.40000000000003 177.2Z' fill='#3c3c3c'/><circle cx='335.8' cy='175.6' r='3.85' fill='#3a3a3a'/>
<text x='345' y='158' font-family="Liberation Sans, sans-serif" font-size='8' fill='#d4d4d4' stroke='#d4d4d4' stroke-width='0.15' textLength='17' lengthAdjust='spacingAndGlyphs'>X (S)</text>
<text x='369' y='158' font-family="Liberation Sans, sans-serif" font-size='8' fill='#d4d4d4' stroke='#d4d4d4' stroke-width='0.15' textLength='22.5' lengthAdjust='spacingAndGlyphs'>Result</text>
<text x='345' y='178' font-family="Liberation Sans, sans-serif" font-size='8' fill='#d4d4d4' stroke='#d4d4d4' stroke-width='0.15' textLength='17' lengthAdjust='spacingAndGlyphs'>Y (S)</text>
<text x='442' y='140.9' font-family="Liberation Sans, sans-serif" font-size='9.8' fill='#dcdcdc' stroke='#dcdcdc' stroke-width='0.4' textLength='40.4' lengthAdjust='spacingAndGlyphs'>Normalize</text>
<path d='M513.6 135.2L516.5 137.8L519.4 135.2' stroke='#ececec' stroke-width='1.6' fill='none'/>
<path d='M447.20000000000005 154.8L450.3 156.4L447.20000000000005 158.0Z' fill='#f4f4f4'/><circle cx='443.6' cy='156.4' r='3.85' fill='#f4f4f4' stroke='#151515' stroke-opacity='0.6' stroke-width='0.7'/>
<path d='M515.2 154.8L518.3000000000001 156.4L515.2 158.0Z' fill='#f4f4f4'/><circle cx='511.6' cy='156.4' r='3.85' fill='#f4f4f4' stroke='#151515' stroke-opacity='0.6' stroke-width='0.7'/>
<text x='453' y='158.8' font-family="Liberation Sans, sans-serif" font-size='8' fill='#d4d4d4' stroke='#d4d4d4' stroke-width='0.15' textLength='44' lengthAdjust='spacingAndGlyphs'>VectorInput</text>
<text x='560' y='139.9' font-family="Liberation Sans, sans-serif" font-size='9.8' fill='#dcdcdc' stroke='#dcdcdc' stroke-width='0.4' textLength='114' lengthAdjust='spacingAndGlyphs'>BreakOutFloat2Components</text>
<path d='M566.1 154.0L569.2 155.6L566.1 157.2Z' fill='#3c3c3c'/><circle cx='562.5' cy='155.6' r='3.85' fill='#3a3a3a'/>
<path d='M689.1 154.0L692.2 155.6L689.1 157.2Z' fill='#f4f4f4'/><circle cx='685.5' cy='155.6' r='3.85' fill='#f4f4f4' stroke='#151515' stroke-opacity='0.6' stroke-width='0.7'/>
<path d='M689.1 174.0L692.2 175.6L689.1 177.2Z' fill='#f4f4f4'/><circle cx='685.5' cy='175.6' r='3.85' fill='#f4f4f4' stroke='#151515' stroke-opacity='0.6' stroke-width='0.7'/>
<text x='571.7' y='158' font-family="Liberation Sans, sans-serif" font-size='8' fill='#d4d4d4' stroke='#d4d4d4' stroke-width='0.15' textLength='40.7' lengthAdjust='spacingAndGlyphs'>Float2 (V2)</text>
<text x='672.7' y='158' font-family="Liberation Sans, sans-serif" font-size='7' fill='#d4d4d4' stroke='#d4d4d4' stroke-width='0.15' textLength='5' lengthAdjust='spacingAndGlyphs'>R</text>
<text x='672.7' y='178' font-family="Liberation Sans, sans-serif" font-size='7' fill='#d4d4d4' stroke='#d4d4d4' stroke-width='0.15' textLength='5.2' lengthAdjust='spacingAndGlyphs'>G</text>
<text x='798' y='216.2' font-family="Liberation Sans, sans-serif" font-size='9.8' fill='#dcdcdc' stroke='#dcdcdc' stroke-width='0.4' textLength='48' lengthAdjust='spacingAndGlyphs'>MakeFloat3</text>
<path d='M802.9 229.8L806.0 231.4L802.9 233.0Z' fill='#3c3c3c'/><circle cx='799.3' cy='231.4' r='3.85' fill='#3a3a3a'/>
<path d='M802.9 249.8L806.0 251.4L802.9 253.0Z' fill='#3c3c3c'/><circle cx='799.3' cy='251.4' r='3.85' fill='#3a3a3a'/>
<path d='M802.9 269.0L806.0 270.6L802.9 272.20000000000005Z' fill='#3c3c3c'/><circle cx='799.3' cy='270.6' r='3.85' fill='#3a3a3a'/>
<path d='M866.0 229.8L869.1 231.4L866.0 233.0Z' fill='#f4f4f4'/><circle cx='862.4' cy='231.4' r='3.85' fill='#f4f4f4' stroke='#151515' stroke-opacity='0.6' stroke-width='0.7'/>
<text x='810.2' y='233.8' font-family="Liberation Sans, sans-serif" font-size='8' fill='#d4d4d4' stroke='#d4d4d4' stroke-width='0.15' textLength='17.2' lengthAdjust='spacingAndGlyphs'>X (S)</text>
<text x='810.2' y='253.8' font-family="Liberation Sans, sans-serif" font-size='8' fill='#d4d4d4' stroke='#d4d4d4' stroke-width='0.15' textLength='17.2' lengthAdjust='spacingAndGlyphs'>Y (S)</text>
<text x='810.2' y='273' font-family="Liberation Sans, sans-serif" font-size='8' fill='#d4d4d4' stroke='#d4d4d4' stroke-width='0.15' textLength='17.2' lengthAdjust='spacingAndGlyphs'>Z (S)</text>
<text x='833' y='233.8' font-family="Liberation Sans, sans-serif" font-size='8' fill='#d4d4d4' stroke='#d4d4d4' stroke-width='0.15' textLength='22.5' lengthAdjust='spacingAndGlyphs'>Result</text>
<text x='928' y='216.9' font-family="Liberation Sans, sans-serif" font-size='9.8' fill='#dcdcdc' stroke='#dcdcdc' stroke-width='0.4' textLength='40' lengthAdjust='spacingAndGlyphs'>Normalize</text>
<path d='M999.6 211.0L1002.35 213.7L1005.1 211.0' stroke='#ececec' stroke-width='1.6' fill='none'/>
<path d='M933.3000000000001 230.70000000000002L936.4000000000001 232.3L933.3000000000001 233.9Z' fill='#f4f4f4'/><circle cx='929.7' cy='232.3' r='3.85' fill='#f4f4f4' stroke='#151515' stroke-opacity='0.6' stroke-width='0.7'/>
<path d='M1001.3000000000001 230.70000000000002L1004.4000000000001 232.3L1001.3000000000001 233.9Z' fill='#f4f4f4'/><circle cx='997.7' cy='232.3' r='3.85' fill='#f4f4f4' stroke='#151515' stroke-opacity='0.6' stroke-width='0.7'/>
<text x='939' y='234.7' font-family="Liberation Sans, sans-serif" font-size='8' fill='#d4d4d4' stroke='#d4d4d4' stroke-width='0.15' textLength='43.4' lengthAdjust='spacingAndGlyphs'>VectorInput</text>
<text x='1056.7' y='216.9' font-family="Liberation Sans, sans-serif" font-size='9.8' fill='#dcdcdc' stroke='#dcdcdc' stroke-width='0.4' textLength='5.3' lengthAdjust='spacingAndGlyphs'>n</text>
<path d='M1087.6 211.0L1090.4 213.7L1093.2 211.0' stroke='#ececec' stroke-width='1.6' fill='none'/>
<path d='M1062.0 230.70000000000002L1065.1000000000001 232.3L1062.0 233.9Z' fill='#f4f4f4'/><circle cx='1058.4' cy='232.3' r='3.85' fill='#f4f4f4' stroke='#151515' stroke-opacity='0.6' stroke-width='0.7'/>
<path d='M1089.1 230.70000000000002L1092.2 232.3L1089.1 233.9Z' fill='#f4f4f4'/><circle cx='1085.5' cy='232.3' r='3.85' fill='#f4f4f4' stroke='#151515' stroke-opacity='0.6' stroke-width='0.7'/>
<text x='204' y='270.9' font-family="Liberation Sans, sans-serif" font-size='9.8' fill='#dcdcdc' stroke='#dcdcdc' stroke-width='0.4' textLength='4.7' lengthAdjust='spacingAndGlyphs'>x</text>
<path d='M221.6 265.5L224.3 268.0L227.0 265.5' stroke='#ececec' stroke-width='1.6' fill='none'/>
<path d='M222.1 285.2L225.2 286.8L222.1 288.40000000000003Z' fill='#f4f4f4'/><circle cx='218.5' cy='286.8' r='3.85' fill='#f4f4f4' stroke='#151515' stroke-opacity='0.6' stroke-width='0.7'/>
<text x='192.8' y='324.9' font-family="Liberation Sans, sans-serif" font-size='9.8' fill='#dcdcdc' stroke='#dcdcdc' stroke-width='0.4' textLength='27.4' lengthAdjust='spacingAndGlyphs'>x_zero</text>
<path d='M232.4 319.5L235.4 322.0L238.4 319.5' stroke='#ececec' stroke-width='1.6' fill='none'/>
<path d='M232.9 339.09999999999997L236.0 340.7L232.9 342.3Z' fill='#f4f4f4'/><circle cx='229.3' cy='340.7' r='3.85' fill='#f4f4f4' stroke='#151515' stroke-opacity='0.6' stroke-width='0.7'/>
<text x='204' y='378.9' font-family="Liberation Sans, sans-serif" font-size='9.8' fill='#dcdcdc' stroke='#dcdcdc' stroke-width='0.4' textLength='4.7' lengthAdjust='spacingAndGlyphs'>a</text>
<path d='M221.6 373.5L224.3 376.0L227.0 373.5' stroke='#ececec' stroke-width='1.6' fill='none'/>
<path d='M222.1 393.0L225.2 394.6L222.1 396.20000000000005Z' fill='#f4f4f4'/><circle cx='218.5' cy='394.6' r='3.85' fill='#f4f4f4' stroke='#151515' stroke-opacity='0.6' stroke-width='0.7'/>
<text x='344' y='291.9' font-family="Liberation Sans, sans-serif" font-size='9.8' fill='#dcdcdc' stroke='#dcdcdc' stroke-width='0.4' textLength='31.4' lengthAdjust='spacingAndGlyphs'>Custom</text>
<path d='M438.6 289.5L442.25 286.5L445.9 289.5' stroke='#ececec' stroke-width='1.6' fill='none'/>
<path d='M349.90000000000003 306.4L353.0 308L349.90000000000003 309.6Z' fill='#f4f4f4'/><circle cx='346.3' cy='308' r='3.85' fill='#f4f4f4' stroke='#151515' stroke-opacity='0.6' stroke-width='0.7'/>
<path d='M349.90000000000003 326.09999999999997L353.0 327.7L349.90000000000003 329.3Z' fill='#f4f4f4'/><circle cx='346.3' cy='327.7' r='3.85' fill='#f4f4f4' stroke='#151515' stroke-opacity='0.6' stroke-width='0.7'/>
<path d='M349.90000000000003 345.9L353.0 347.5L349.90000000000003 349.1Z' fill='#f4f4f4'/><circle cx='346.3' cy='347.5' r='3.85' fill='#f4f4f4' stroke='#151515' stroke-opacity='0.6' stroke-width='0.7'/>
<path d='M441.6 306.4L444.7 308L441.6 309.6Z' fill='#f4f4f4'/><circle cx='438' cy='308' r='3.85' fill='#f4f4f4' stroke='#151515' stroke-opacity='0.6' stroke-width='0.7'/>
<text x='356' y='310.4' font-family="Liberation Sans, sans-serif" font-size='8' fill='#d4d4d4' stroke='#d4d4d4' stroke-width='0.15' textLength='4.5' lengthAdjust='spacingAndGlyphs'>x</text>
<text x='356' y='330.1' font-family="Liberation Sans, sans-serif" font-size='8' fill='#d4d4d4' stroke='#d4d4d4' stroke-width='0.15' textLength='19.5' lengthAdjust='spacingAndGlyphs'>xzero</text>
<text x='356' y='349.9' font-family="Liberation Sans, sans-serif" font-size='8' fill='#d4d4d4' stroke='#d4d4d4' stroke-width='0.15' textLength='4.5' lengthAdjust='spacingAndGlyphs'>a</text>
<rect x='382' y='321' width='64' height='65' fill='#000'/>
<text x='528' y='291.9' font-family="Liberation Sans, sans-serif" font-size='9.8' fill='#dcdcdc' stroke='#dcdcdc' stroke-width='0.4' textLength='44.9' lengthAdjust='spacingAndGlyphs'>Multiply(,1)</text>
<path d='M585.6 286.5L588.0 289.5L590.4 286.5' stroke='#ececec' stroke-width='1.6' fill='none'/>
<path d='M534.1 306.09999999999997L537.2 307.7L534.1 309.3Z' fill='#3c3c3c'/><circle cx='530.5' cy='307.7' r='3.85' fill='#3a3a3a'/>
<path d='M586.6 306.09999999999997L589.7 307.7L586.6 309.3Z' fill='#f4f4f4'/><circle cx='583' cy='307.7' r='3.85' fill='#f4f4f4' stroke='#151515' stroke-opacity='0.6' stroke-width='0.7'/>
<path d='M534.1 328.4L537.2 330L534.1 331.6Z' fill='#3c3c3c'/><circle cx='530.5' cy='330' r='3.25' fill='#0c0c0c' stroke='#3a3a3a' stroke-width='1.2'/>
<text x='539.8' y='310.1' font-family="Liberation Sans, sans-serif" font-size='7' fill='#d4d4d4' stroke='#d4d4d4' stroke-width='0.15' textLength='5.5' lengthAdjust='spacingAndGlyphs'>A</text>
<text x='540.4' y='332.4' font-family="Liberation Sans, sans-serif" font-size='7' fill='#d4d4d4' stroke='#d4d4d4' stroke-width='0.15' textLength='4.6' lengthAdjust='spacingAndGlyphs'>B</text>
<text x='551.4' y='333.7' font-family="Liberation Sans, sans-serif" font-size='9' fill='#d8d8d8' stroke='#d8d8d8' stroke-width='0.15' textLength='11.6' lengthAdjust='spacingAndGlyphs'>1.0</text>
<rect x='548.5' y='323.8' width='18.5' height='12.5' fill='none' stroke='#c8c8c8' stroke-width='1'/>
<text x='1327' y='270.6' font-family="Liberation Sans, sans-serif" font-size='9.8' fill='#dcdcdc' stroke='#dcdcdc' stroke-width='0.4' textLength='14.4' lengthAdjust='spacingAndGlyphs'>Dot</text>
<path d='M1360.1999999999998 265.5L1363.5 268.2L1366.8000000000002 265.5' stroke='#ececec' stroke-width='1.6' fill='none'/>
<path d='M1333.1 284.9L1336.2 286.5L1333.1 288.1Z' fill='#f4f4f4'/><circle cx='1329.5' cy='286.5' r='3.85' fill='#f4f4f4' stroke='#151515' stroke-opacity='0.6' stroke-width='0.7'/>
<path d='M1362.3 284.9L1365.4 286.5L1362.3 288.1Z' fill='#f4f4f4'/><circle cx='1358.7' cy='286.5' r='3.85' fill='#f4f4f4' stroke='#151515' stroke-opacity='0.6' stroke-width='0.7'/>
<path d='M1333.1 304.59999999999997L1336.2 306.2L1333.1 307.8Z' fill='#f4f4f4'/><circle cx='1329.5' cy='306.2' r='3.85' fill='#f4f4f4' stroke='#151515' stroke-opacity='0.6' stroke-width='0.7'/>
<text x='1339' y='288.9' font-family="Liberation Sans, sans-serif" font-size='7' fill='#d4d4d4' stroke='#d4d4d4' stroke-width='0.15' textLength='5.5' lengthAdjust='spacingAndGlyphs'>A</text>
<text x='1339' y='308.6' font-family="Liberation Sans, sans-serif" font-size='7' fill='#d4d4d4' stroke='#d4d4d4' stroke-width='0.15' textLength='4.6' lengthAdjust='spacingAndGlyphs'>B</text>
<text x='1414' y='270.6' font-family="Liberation Sans, sans-serif" font-size='9.8' fill='#dcdcdc' stroke='#dcdcdc' stroke-width='0.4' textLength='40.3' lengthAdjust='spacingAndGlyphs'>Arccosine</text>
<path d='M1466.1999999999998 265.5L1469.8 268.2L1473.4 265.5' stroke='#ececec' stroke-width='1.6' fill='none'/>
<path d='M1419.0 284.9L1422.1000000000001 286.5L1419.0 288.1Z' fill='#f4f4f4'/><circle cx='1415.4' cy='286.5' r='3.85' fill='#f4f4f4' stroke='#151515' stroke-opacity='0.6' stroke-width='0.7'/>
<path d='M1468.1999999999998 284.9L1471.3 286.5L1468.1999999999998 288.1Z' fill='#f4f4f4'/><circle cx='1464.6' cy='286.5' r='3.85' fill='#f4f4f4' stroke='#151515' stroke-opacity='0.6' stroke-width='0.7'/>
<text x='1608' y='248.9' font-family="Liberation Sans, sans-serif" font-size='9.8' fill='#dcdcdc' stroke='#dcdcdc' stroke-width='0.4' textLength='24.5' lengthAdjust='spacingAndGlyphs'>Divide</text>
<path d='M1645.6 243.3L1648.1 246.3L1650.6000000000001 243.3' stroke='#ececec' stroke-width='1.6' fill='none'/>
<path d='M1612.3 262.9L1615.4 264.5L1612.3 266.1Z' fill='#3c3c3c'/><circle cx='1608.7' cy='264.5' r='3.85' fill='#3a3a3a'/>
<path d='M1646.3 262.9L1649.4 264.5L1646.3 266.1Z' fill='#f4f4f4'/><circle cx='1642.7' cy='264.5' r='3.85' fill='#f4f4f4' stroke='#151515' stroke-opacity='0.6' stroke-width='0.7'/>
<path d='M1612.3 282.59999999999997L1615.4 284.2L1612.3 285.8Z' fill='#3c3c3c'/><circle cx='1608.7' cy='284.2' r='3.85' fill='#3a3a3a'/>
<text x='1620' y='266.9' font-family="Liberation Sans, sans-serif" font-size='7' fill='#d4d4d4' stroke='#d4d4d4' stroke-width='0.15' textLength='5.5' lengthAdjust='spacingAndGlyphs'>A</text>
<text x='1620' y='286.6' font-family="Liberation Sans, sans-serif" font-size='7' fill='#d4d4d4' stroke='#d4d4d4' stroke-width='0.15' textLength='4.6' lengthAdjust='spacingAndGlyphs'>B</text>
<text x='1273' y='486.8' font-family="Liberation Sans, sans-serif" font-size='9.8' fill='#dcdcdc' stroke='#dcdcdc' stroke-width='0.4' textLength='5' lengthAdjust='spacingAndGlyphs'>2</text>
<path d='M1343.3999999999999 481.5L1346.4 484.2L1349.4 481.5' stroke='#ececec' stroke-width='1.6' fill='none'/>
<path d='M1345.3 500.79999999999995L1348.4 502.4L1345.3 504.0Z' fill='#f4f4f4'/><circle cx='1341.7' cy='502.4' r='3.85' fill='#f4f4f4' stroke='#151515' stroke-opacity='0.6' stroke-width='0.7'/>
<text x='1285' y='506.4' font-family="Liberation Sans, sans-serif" font-size='8' fill='#d4d4d4' stroke='#d4d4d4' stroke-width='0.15' textLength='20' lengthAdjust='spacingAndGlyphs'>Value</text>
<text x='1311.8' y='508.2' font-family="Liberation Sans, sans-serif" font-size='9' fill='#d8d8d8' stroke='#d8d8d8' stroke-width='0.15' textLength='12.2' lengthAdjust='spacingAndGlyphs'>2.0</text>
<rect x='1308.5' y='498.5' width='18.5' height='13' fill='none' stroke='#c8c8c8' stroke-width='1'/>
<text x='1381' y='485.6' font-family="Liberation Sans, sans-serif" font-size='9.8' fill='#dcdcdc' stroke='#dcdcdc' stroke-width='0.4' textLength='8.5' lengthAdjust='spacingAndGlyphs'>Pi</text>
<path d='M1385.6999999999998 500.09999999999997L1388.8 501.7L1385.6999999999998 503.3Z' fill='#3c3c3c'/><circle cx='1382.1' cy='501.7' r='3.85' fill='#3a3a3a'/>
<path d='M1480.3 500.09999999999997L1483.4 501.7L1480.3 503.3Z' fill='#f4f4f4'/><circle cx='1476.7' cy='501.7' r='3.85' fill='#f4f4f4' stroke='#151515' stroke-opacity='0.6' stroke-width='0.7'/>
<text x='1393' y='504.1' font-family="Liberation Sans, sans-serif" font-size='8' fill='#d4d4d4' stroke='#d4d4d4' stroke-width='0.15' textLength='47.6' lengthAdjust='spacingAndGlyphs'>Multiplier (S)</text>
<text x='1446' y='504.1' font-family="Liberation Sans, sans-serif" font-size='8' fill='#d4d4d4' stroke='#d4d4d4' stroke-width='0.15' textLength='22.6' lengthAdjust='spacingAndGlyphs'>Result</text>
<text x='775' y='498.9' font-family="Liberation Sans, sans-serif" font-size='9.8' fill='#dcdcdc' stroke='#dcdcdc' stroke-width='0.4' textLength='33' lengthAdjust='spacingAndGlyphs'>TrueEnd</text>
<path d='M820.6 494.5L823.0 497.0L825.4 494.5' stroke='#ececec' stroke-width='1.6' fill='none'/>
<path d='M820.9 513.3L824.0 514.9L820.9 516.5Z' fill='#f4f4f4'/><circle cx='817.3' cy='514.9' r='3.85' fill='#f4f4f4' stroke='#151515' stroke-opacity='0.6' stroke-width='0.7'/>
<text x='770' y='593.1' font-family="Liberation Sans, sans-serif" font-size='9.8' fill='#dcdcdc' stroke='#dcdcdc' stroke-width='0.4' textLength='38' lengthAdjust='spacingAndGlyphs'>TrueStart</text>
<path d='M820.6 588.0L823.0 590.7L825.4 588.0' stroke='#ececec' stroke-width='1.6' fill='none'/>
<path d='M821.4 607.1999999999999L824.5 608.8L821.4 610.4Z' fill='#f4f4f4'/><circle cx='817.8' cy='608.8' r='3.85' fill='#f4f4f4' stroke='#151515' stroke-opacity='0.6' stroke-width='0.7'/>
<text x='874' y='529.8' font-family="Liberation Sans, sans-serif" font-size='9.8' fill='#dcdcdc' stroke='#dcdcdc' stroke-width='0.4' textLength='35' lengthAdjust='spacingAndGlyphs'>Subtract</text>
<path d='M920.8000000000001 525.0L923.4000000000001 527.8L926.0 525.0' stroke='#ececec' stroke-width='1.6' fill='none'/>
<path d='M878.3000000000001 543.9L881.4000000000001 545.5L878.3000000000001 547.1Z' fill='#3c3c3c'/><circle cx='874.7' cy='545.5' r='3.85' fill='#3a3a3a'/>
<path d='M922.2 543.9L925.3000000000001 545.5L922.2 547.1Z' fill='#f4f4f4'/><circle cx='918.6' cy='545.5' r='3.85' fill='#f4f4f4' stroke='#151515' stroke-opacity='0.6' stroke-width='0.7'/>
<path d='M878.3000000000001 563.6L881.4000000000001 565.2L878.3000000000001 566.8000000000001Z' fill='#3c3c3c'/><circle cx='874.7' cy='565.2' r='3.85' fill='#3a3a3a'/>
<text x='885.3' y='547.9' font-family="Liberation Sans, sans-serif" font-size='7' fill='#d4d4d4' stroke='#d4d4d4' stroke-width='0.15' textLength='5.5' lengthAdjust='spacingAndGlyphs'>A</text>
<text x='885.3' y='567.6' font-family="Liberation Sans, sans-serif" font-size='7' fill='#d4d4d4' stroke='#d4d4d4' stroke-width='0.15' textLength='4.6' lengthAdjust='spacingAndGlyphs'>B</text>
<text x='960' y='529.9' font-family="Liberation Sans, sans-serif" font-size='9.8' fill='#dcdcdc' stroke='#dcdcdc' stroke-width='0.4' textLength='40.4' lengthAdjust='spacingAndGlyphs'>Normalize</text>
<path d='M1031.6 525.0L1034.5 527.8L1037.4 525.0' stroke='#ececec' stroke-width='1.6' fill='none'/>
<path d='M964.2 543.9L967.3000000000001 545.5L964.2 547.1Z' fill='#f4f4f4'/><circle cx='960.6' cy='545.5' r='3.85' fill='#f4f4f4' stroke='#151515' stroke-opacity='0.6' stroke-width='0.7'/>
<path d='M1033.1 543.9L1036.2 545.5L1033.1 547.1Z' fill='#f4f4f4'/><circle cx='1029.5' cy='545.5' r='3.85' fill='#f4f4f4' stroke='#151515' stroke-opacity='0.6' stroke-width='0.7'/>
<text x='972' y='547.9' font-family="Liberation Sans, sans-serif" font-size='8' fill='#d4d4d4' stroke='#d4d4d4' stroke-width='0.15' textLength='43.4' lengthAdjust='spacingAndGlyphs'>VectorInput</text>
<rect x='10' y='624.8' width='245' height='40' rx='6' fill='#000' fill-opacity='0.6' filter='url(#sh)'/>
<rect x='11' y='625.3' width='243' height='40' rx='5' fill='#0d0d0d'/>
<path d='M12 662V630.3Q12 626.3 16 626.3H249Q253 626.3 253 630.3V662Z' fill='url(#hg23)'/>
<path d='M12 662V630.3Q12 626.3 16 626.3H249Q253 626.3 253 630.3V662Z' fill='url(#blob)'/>
<path d='M12.5 630Q12.5 626.8 16 626.8H249Q252.5 626.8 252.5 630' stroke='#fff' stroke-opacity='0.35' stroke-width='1' fill='none'/>
<text x='20' y='637.2' font-family="Liberation Sans, sans-serif" font-size='9.4' fill='#e0e0e0' textLength='210' lengthAdjust='spacingAndGlyphs' font-weight='bold'>Absolute World Position (Excluding Material Offsets)</text>
<text x='20' y='647.9' font-family="Liberation Sans, sans-serif" font-size='7.8' fill='#c88a60' textLength='38.4' lengthAdjust='spacingAndGlyphs' font-style='italic'>Input Data</text>
<path d='M242.4 636.5L245.4 639.2L248.4 636.5' stroke='#ececec' stroke-width='1.6' fill='none'/>
</svg></body></html>
